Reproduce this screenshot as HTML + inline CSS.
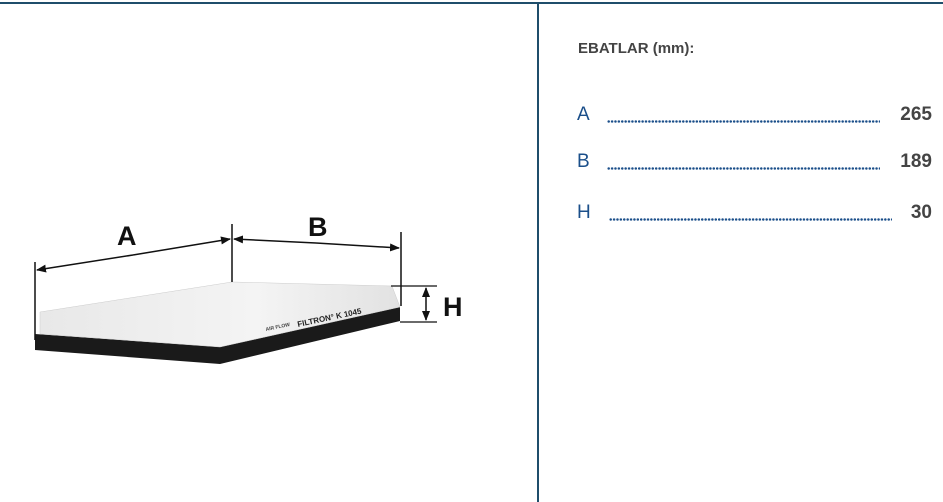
<!DOCTYPE html>
<html><head><meta charset="utf-8"><style>
html,body{margin:0;padding:0;background:#fff;}
body{width:943px;height:502px;position:relative;overflow:hidden;font-family:"Liberation Sans",sans-serif;}
.t{position:absolute;left:0;top:2px;width:943px;height:2px;background:#1f4e6b;}
.v{position:absolute;left:537px;top:3px;width:2px;height:499px;background:#1f4e6b;}
.h{position:absolute;left:578px;top:40px;font-size:15px;font-weight:bold;color:#444;}
.row{position:absolute;left:577px;width:355px;height:24px;}
.row .l{position:absolute;left:0;top:0;font-size:19px;color:#1b4f8a;}
.row .d{position:absolute;left:30px;right:52px;top:16px;height:3px;background:radial-gradient(circle,#1b4f8a 1.1px,transparent 1.4px) 0 0/3.4px 3px repeat-x;}
.row .n{position:absolute;right:0;top:0;font-size:19px;font-weight:bold;color:#444;}
</style></head><body>
<div class="t"></div><div class="v"></div>
<svg width="943" height="502" style="position:absolute;left:0;top:0">
<defs>
<linearGradient id="g" x1="0" y1="0" x2="1" y2="0"><stop offset="0" stop-color="#e8e8e8"/><stop offset="0.6" stop-color="#f4f4f4"/><stop offset="1" stop-color="#e2e2e2"/></linearGradient>
<marker id="ar" markerWidth="10" markerHeight="8" refX="9" refY="4" orient="auto" markerUnits="userSpaceOnUse"><path d="M0,0 L10,4 L0,8 z" fill="#111"/></marker>
</defs>
<polygon points="35,334 220,347 400,307 400,321 220,364 35,350" fill="#1a1a1a"/>
<polygon points="40,312 232,282 392,286 400,307 220,347 40,334" fill="url(#g)" stroke="#ccc" stroke-width="0.5"/>
<text x="266" y="331" font-size="5" font-weight="bold" fill="#444" transform="rotate(-12 266 331)">AIR FLOW</text>
<text x="298" y="327" font-size="8" font-weight="bold" fill="#222" transform="rotate(-12 298 327)">FILTRON° K 1045</text>
<line x1="35" y1="262" x2="35" y2="340" stroke="#111" stroke-width="1.5"/>
<line x1="232" y1="224" x2="232" y2="282" stroke="#111" stroke-width="1.5"/>
<line x1="401" y1="232" x2="401" y2="306" stroke="#111" stroke-width="1.5"/>
<line x1="133" y1="255" x2="37" y2="270" stroke="#111" stroke-width="1.5" marker-end="url(#ar)"/>
<line x1="133" y1="255" x2="230" y2="239" stroke="#111" stroke-width="1.5" marker-end="url(#ar)"/>
<line x1="316" y1="243" x2="234" y2="239" stroke="#111" stroke-width="1.5" marker-end="url(#ar)"/>
<line x1="316" y1="243" x2="399" y2="248" stroke="#111" stroke-width="1.5" marker-end="url(#ar)"/>
<line x1="391" y1="286" x2="437" y2="286" stroke="#111" stroke-width="1.2"/>
<line x1="400" y1="322" x2="437" y2="322" stroke="#111" stroke-width="1.2"/>
<line x1="426" y1="304" x2="426" y2="288" stroke="#111" stroke-width="1.5" marker-end="url(#ar)"/>
<line x1="426" y1="304" x2="426" y2="320" stroke="#111" stroke-width="1.5" marker-end="url(#ar)"/>
<text x="117" y="245" font-size="27" font-weight="bold" fill="#111">A</text>
<text x="308" y="236" font-size="27" font-weight="bold" fill="#111">B</text>
<text x="443" y="316" font-size="27" font-weight="bold" fill="#111">H</text>
</svg>
<div class="h">EBATLAR (mm):</div>
<div class="row" style="top:104px"><span class="l">A</span><span class="d"></span><span class="n">265</span></div>
<div class="row" style="top:151px"><span class="l">B</span><span class="d"></span><span class="n">189</span></div>
<div class="row" style="top:202px"><span class="l">H</span><span class="d" style="left:32px;right:40px"></span><span class="n">30</span></div>
</body></html>
